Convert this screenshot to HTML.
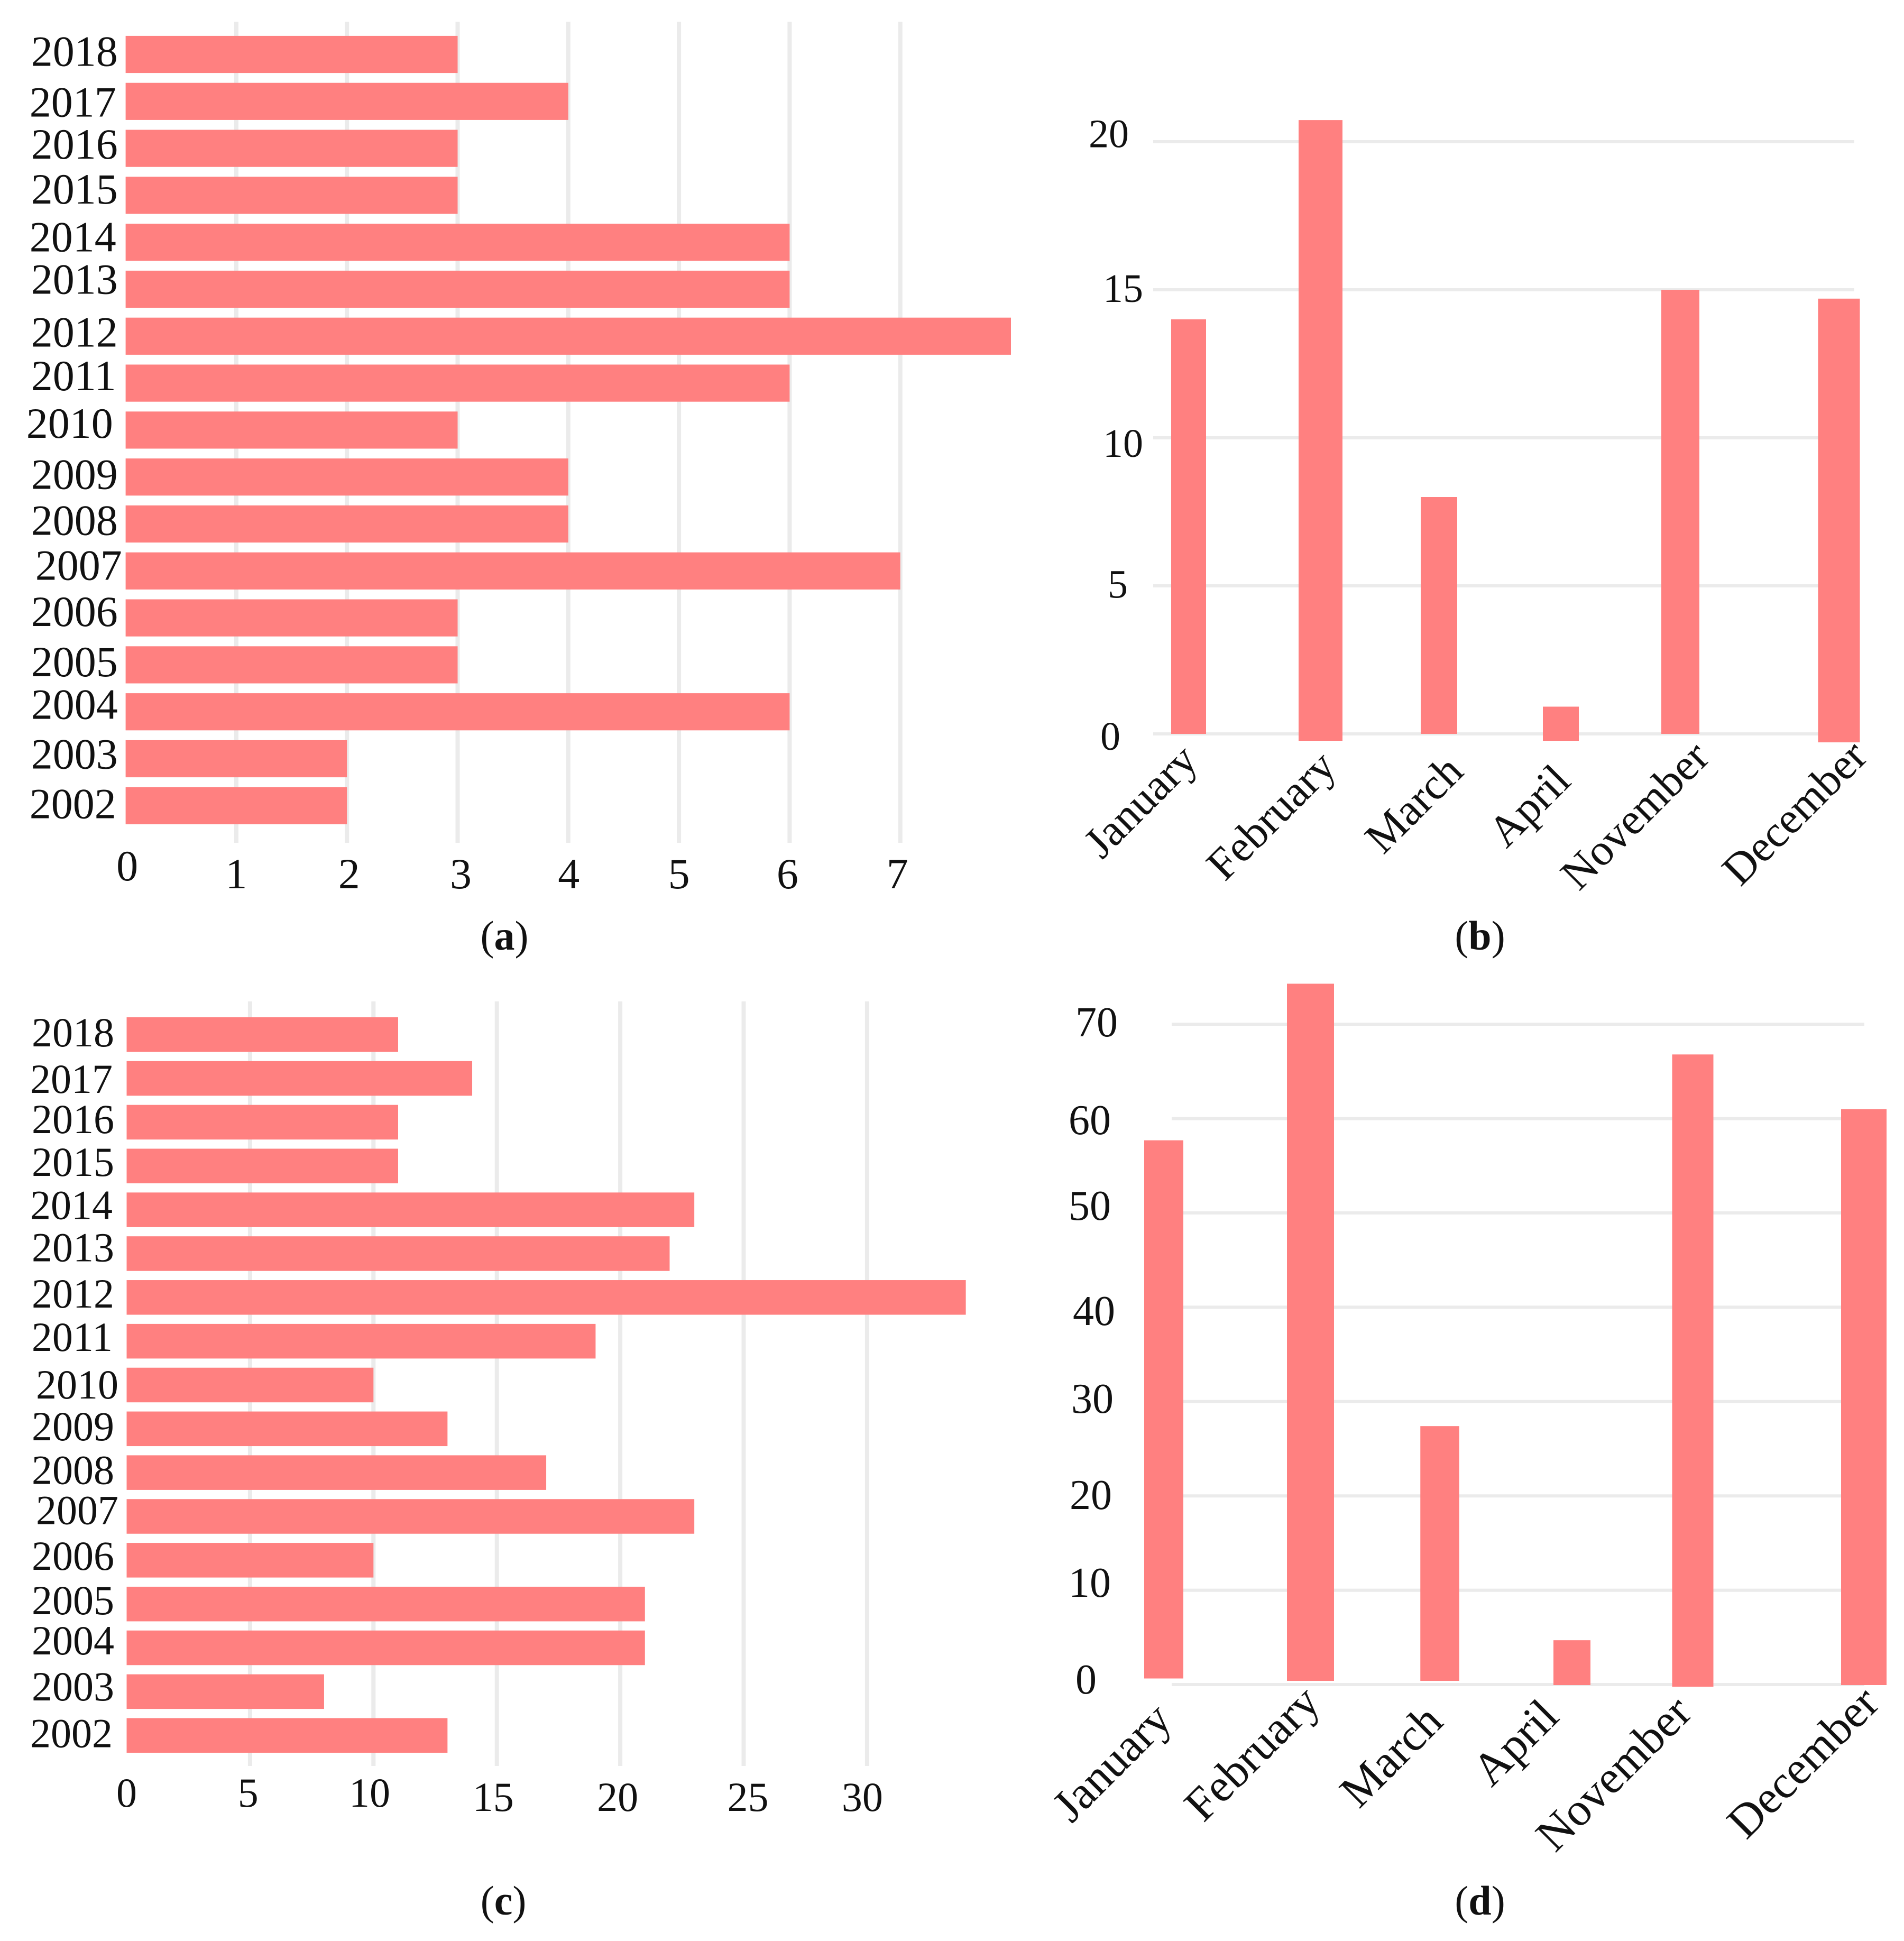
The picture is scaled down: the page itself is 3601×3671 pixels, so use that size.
<!DOCTYPE html>
<html lang="en">
<head>
<meta charset="utf-8">
<title>Four-panel bar charts</title>
<style>
html,body{margin:0;padding:0;background:#fff;}
svg{display:block;}
text{font-family:"Liberation Serif",serif;fill:#111;}
</style>
</head>
<body>
<svg id="figure" xmlns="http://www.w3.org/2000/svg" width="3601" height="3671" viewBox="0 0 3601 3671"></svg>
<script>
// ---------- chart data ----------
const years = ['2018','2017','2016','2015','2014','2013','2012','2011','2010','2009','2008','2007','2006','2005','2004','2003','2002'];
const months = ['January','February','March','April','November','December'];

const panelAValues = [3,4,3,3,6,6,8,6,3,4,4,7,3,3,6,2,2];
const panelATicks = ['0','1','2','3','4','5','6','7'];

const panelBValues = [14,20.73,8,0.92,15,14.7];
const panelBTicks = ['0','5','10','15','20'];

const panelCValues = [11,14,11,11,23,22,34,19,10,13,17,23,10,21,21,8,13];
const panelCTicks = ['0','5','10','15','20','25','30'];

const panelDValues = [57.7,74.3,27.4,4.7,66.8,61];
const panelDTicks = ['0','10','20','30','40','50','60','70'];

// ---------- layout (hand-set offsets of the printed figure, not data) ----------
const layoutA = {x0:237.6,unit:209.3,top:67.9,step:88.8,h:70.2,gridTop:41,gridBottom:1594,labelRight:222.7,font:82,tickFont:82,
  labelDx:[0,-3,0,0,-3,0,0,-3,-9,0,0,8,0,0,0,0,-3],
  labelDy:[-4,3,-6,-10,-8,-17,-6,-12,-11,-3,-5,-9,-10,-4,-12,-7,-2],
  tickX:[3,0,4,6,1,0,-4,-5.5],tickY:[1665,1680,1680,1680,1680,1680,1680,1680],labelBase:25.5,
  caption:{text:'a',x:954,y:1796,name:'panel-a-caption'}};
const layoutC = {x0:239.5,unit:46.68,top:1924,step:82.84,h:65.5,gridTop:1894,gridBottom:3340,labelRight:216,font:78,tickFont:78,
  labelDx:[0,-3,0,0,-3,0,0,-3,8,0,0,8,0,0,0,0,-3],
  labelDy:[-2.5,3,-4,-6,-7,-10,-5.5,-6,1,-3,-3,-10,-6.5,-5,-12,-8,-2],
  tickX:[0,-3.6,-7.3,-7,-5,8,-9],tickY:[3417,3417,3417,3425,3425,3425,3425],labelBase:24.5,
  caption:{text:'c',x:952,y:3621,name:'panel-c-caption'}};
const layoutB = {base:1388,unit:56,gridLeft:2181,gridRight:3507,font:84,tickFont:76,
  bandStart:2248,bandStep:246,bandNudge:[0,3.5,-18.5,-34,-54,0],barW:[66,83,69,68,72,79],overshoot:[0,13,0,13,0,16],
  tickRight:[2119,2133,2162,2162,2135],tickY:[1418,1130.5,864,571,278.5],
  monthCx:[2160,2407,2677,2895,3095,3397],monthCy:[1518,1545,1524,1527,1545,1540],
  caption:{text:'b',x:2799,y:1796,name:'panel-b-caption'}};
const layoutD = {base:3186,unit:17.84,gridLeft:2216,gridRight:3526,font:88,tickFont:80,
  bandStart:2201,bandStep:262,bandNudge:[0,15.5,-2,-14,-47.5,14],barW:[74,89,73.5,70,78,86],overshoot:[-11.5,-7,-7,1,4,1],
  tickRight:[2074,2101,2103,2106,2109,2101,2101,2114],tickY:[3203,3020,2854,2672,2506,2307,2145,1960],
  monthCx:[2106,2371,2634,2869,3055,3413],monthCy:[3336,3319,3324,3299,3357,3336],
  caption:{text:'d',x:2799,y:3621,name:'panel-d-caption'}};

const BAR_COLOR = '#FF8080';
const GRID_COLOR = '#EBEBEB';
const svg = document.getElementById('figure');
const NS = 'http://www.w3.org/2000/svg';

function mk(tag, attrs, parent, txt){
  const el = document.createElementNS(NS, tag);
  for (const k in attrs) el.setAttribute(k, attrs[k]);
  if (txt !== undefined) el.textContent = txt;
  parent.appendChild(el);
  return el;
}

function drawCaption(cap){
  const t = mk('text',{x:cap.x,y:cap.y,'text-anchor':'middle','font-size':78},svg);
  
  
  t.appendChild(document.createTextNode('('));
  const b = mk('tspan',{'font-weight':'bold'},t,cap.text);
  t.appendChild(document.createTextNode(')'));
}

function drawHorizontal(panel, values, ticks, L){
  const g = mk('g',{},svg);
  
  
  const xScale = v => L.x0 + v*L.unit;
  ticks.forEach((t,i)=>{
    const x = xScale(Number(t));
    if (Number(t) !== 0){
      const line = mk('line',{x1:x,x2:x,y1:L.gridTop,y2:L.gridBottom,stroke:GRID_COLOR,'stroke-width':8},g);
      
      
    }
    const label = mk('text',{x:x+L.tickX[i],y:L.tickY[i],'text-anchor':'middle','font-size':L.tickFont},g,t);
    
    
  });
  years.forEach((yr,i)=>{
    const y = L.top + i*L.step;
    const bar = mk('rect',{x:L.x0,y:y,width:xScale(values[i])-L.x0,height:L.h,fill:BAR_COLOR},g);
    
    
    const label = mk('text',{x:L.labelRight+L.labelDx[i],y:y+L.h/2+L.labelBase+L.labelDy[i],'text-anchor':'end','font-size':L.font},g,yr);
    
    
  });
  drawCaption(L.caption);
}

function drawVertical(panel, values, ticks, L){
  const g = mk('g',{},svg);
  
  
  const yScale = v => L.base - v*L.unit;
  ticks.forEach((t,i)=>{
    const y = yScale(Number(t));
    const line = mk('line',{x1:L.gridLeft,x2:L.gridRight,y1:y,y2:y,stroke:GRID_COLOR,'stroke-width':6},g);
    
    
    const label = mk('text',{x:L.tickRight[i],y:L.tickY[i],'text-anchor':'end','font-size':L.tickFont},g,t);
    
    
  });
  months.forEach((m,i)=>{
    const cx = L.bandStart + i*L.bandStep + L.bandNudge[i];
    const top = yScale(values[i]);
    const bottom = L.base + L.overshoot[i];
    const bar = mk('rect',{x:cx-L.barW[i]/2,y:top,width:L.barW[i],height:bottom-top,fill:BAR_COLOR},g);
    
    
    const lx = L.monthCx[i], ly = L.monthCy[i];
    const label = mk('text',{x:lx,y:ly,dy:'0.28em','text-anchor':'middle','font-size':L.font,transform:'rotate(-45 '+lx+' '+ly+')'},g,m);
    
    
  });
  drawCaption(L.caption);
}

drawHorizontal('a', panelAValues, panelATicks, layoutA);
drawVertical('b', panelBValues, panelBTicks, layoutB);
drawHorizontal('c', panelCValues, panelCTicks, layoutC);
drawVertical('d', panelDValues, panelDTicks, layoutD);
</script>
</body>
</html>
